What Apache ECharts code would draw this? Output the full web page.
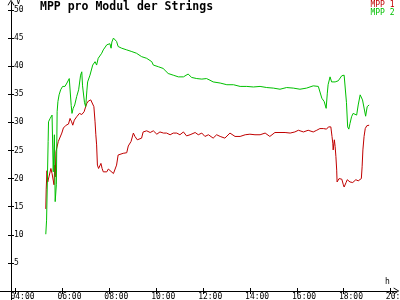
<!DOCTYPE html>
<html><head><meta charset="utf-8">
<script src="https://cdn.jsdelivr.net/npm/echarts@6/dist/echarts.min.js"></script>
<style>html,body{margin:0;padding:0;background:#fff}#c{width:400px;height:300px}</style>
</head><body><div id="c"></div>
<script>
const chartTitle = 'MPP pro Modul der Strings';
const seriesNames = ['MPP 1', 'MPP 2'];
const xTicks = [4, 6, 8, 10, 12, 14, 16, 18, 20];
const yTicks = [5, 10, 15, 20, 25, 30, 35, 40, 45, 50];

const times1 = ['05:18','05:19','05:21','05:23','05:26','05:31','05:34','05:39','05:41','05:42','05:44','05:47','05:50','05:54','05:59','06:03','06:10','06:16','06:20','06:24','06:27','06:31','06:37','06:44','06:50','06:56','07:00','07:03','07:07','07:13','07:17','07:21','07:24','07:26','07:28','07:30','07:33','07:37','07:39','07:42','07:45','07:49','07:54','07:58','08:02','08:11','08:15','08:19','08:23','08:28','08:36','08:45','08:49','08:56','09:02','09:06','09:12','09:17','09:23','09:27','09:36','09:45','09:53','10:02','10:10','10:19','10:27','10:36','10:44','10:53','11:01','11:10','11:18','11:27','11:40','11:48','11:57','12:05','12:14','12:26','12:35','12:44','12:56','13:09','13:22','13:35','13:48','14:00','14:13','14:26','14:39','14:51','15:04','15:17','15:30','15:43','15:55','16:04','16:17','16:29','16:42','16:51','16:59','17:08','17:16','17:21','17:27','17:30','17:32','17:33','17:36','17:38','17:40','17:42','17:43','17:46','17:48','17:52','17:55','17:59','18:01','18:06','18:09','18:16','18:23','18:27','18:31','18:37','18:42','18:45','18:47','18:49','18:52','18:55','18:59','19:05'];
const mpp1 = [14.6,18.0,21.4,19.4,20.3,21.8,20.9,18.9,22.4,20.3,24.8,25.1,26.6,26.9,28.1,29.0,29.5,29.7,30.7,30.1,29.5,30.4,31.0,31.6,31.4,31.9,32.8,33.4,33.8,34.0,33.8,32.8,30.1,27.8,26.0,22.4,21.8,22.1,22.7,21.8,21.2,21.5,21.2,21.7,21.5,20.9,20.8,22.4,24.2,24.5,24.5,24.6,25.8,26.6,28.1,27.5,26.9,26.9,27.2,28.3,28.5,28.2,28.5,27.9,28.3,28.1,28.1,27.8,28.1,28.1,27.8,28.3,27.6,27.8,28.2,27.8,28.1,27.5,27.8,27.2,27.8,27.5,27.2,28.1,27.5,27.5,27.8,27.9,27.8,27.8,28.1,27.5,28.2,28.2,28.2,28.1,28.3,28.6,28.3,28.6,28.3,28.6,28.9,28.9,28.8,29.2,29.2,27.5,26.3,25.1,26.9,25.7,23.9,21.5,19.4,19.2,20.0,20.0,19.9,18.9,18.5,19.3,19.8,19.4,19.3,19.2,19.8,19.6,19.8,20.0,22.1,25.1,27.5,28.9,29.4,29.5];

const times2 = ['05:18','05:20','05:22','05:24','05:25','05:29','05:34','05:35','05:37','05:40','05:42','05:45','05:47','05:49','05:52','05:56','06:01','06:07','06:12','06:18','06:21','06:23','06:25','06:28','06:32','06:37','06:42','06:47','06:50','06:52','06:57','07:00','07:03','07:05','07:11','07:18','07:24','07:28','07:32','07:37','07:41','07:45','07:49','07:54','07:58','08:02','08:05','08:07','08:11','08:13','08:16','08:19','08:23','08:32','08:45','08:58','09:10','09:23','09:36','09:49','09:53','10:06','10:18','10:31','10:44','10:57','11:10','11:22','11:31','11:44','11:57','12:09','12:18','12:26','12:44','13:01','13:18','13:35','13:52','14:09','14:26','14:43','15:00','15:17','15:34','15:51','16:08','16:25','16:42','16:55','16:59','17:04','17:10','17:15','17:18','17:20','17:25','17:29','17:38','17:46','17:55','18:01','18:04','18:07','18:10','18:13','18:16','18:20','18:24','18:29','18:33','18:37','18:42','18:45','18:48','18:53','18:56','19:00','19:05'];
const mpp2 = [10.1,12.6,19.4,26.6,30.1,30.7,31.3,31.3,21.2,27.8,15.9,18.9,31.9,33.7,34.9,35.8,36.4,36.4,37.0,37.8,38.0,33.0,31.6,32.5,33.1,34.6,35.8,38.4,39.0,36.5,33.5,32.8,35.6,37.2,38.4,40.2,40.8,40.2,41.4,41.7,42.3,42.9,43.2,43.8,44.1,44.0,43.2,44.3,45.0,45.3,45.0,44.4,43.5,43.2,42.9,42.6,42.3,41.7,41.4,40.8,40.2,39.9,39.6,38.7,38.4,38.1,38.1,38.6,38.0,37.8,37.7,37.8,37.5,37.2,37.0,36.7,36.7,36.4,36.4,36.3,36.4,36.2,36.1,35.9,36.2,36.1,35.9,36.1,36.5,36.4,36.1,34.3,33.7,32.5,35.2,36.7,38.1,37.2,37.2,37.4,38.3,38.4,38.1,33.5,29.2,28.8,29.8,31.0,31.6,31.9,31.3,33.1,34.9,35.0,34.0,32.2,31.1,32.8,33.1];

const colors = ['#c00000', '#00c000'];
const FONT = 'DejaVu Sans Mono';

function toHours(t) { const p = t.split(':'); return +p[0] + (+p[1]) / 60; }
function pairs(times, vals) { return times.map((t, i) => [toHours(t), vals[i]]); }
// leading spaces shift the centred label so its text starts just left of the tick
function hourLabel(v) { const h = Math.round(v); return '   ' + (h < 10 ? '0' : '') + h + ':00'; }

const arrow = 'path://M5,0 L10,8 L8.6,8 L5,2 L1.4,8 L0,8 Z';
const X_MIN = 3.348, X_MAX = 20.249, Y_MIN = -1.6, Y_MAX = 51.33;

const chart = echarts.init(document.getElementById('c'), null, { renderer: 'canvas' });
const xBase = {
  type: 'value', min: X_MIN, max: X_MAX, position: 'bottom',
  splitLine: { show: false }
};
const yBase = {
  type: 'value', min: Y_MIN, max: Y_MAX, position: 'left', offset: -11,
  splitLine: { show: false }
};
chart.setOption({
  animation: false,
  backgroundColor: '#fff',
  title: {
    text: chartTitle, left: 40, top: 1.5, padding: 0,
    textStyle: { fontFamily: FONT, fontWeight: 'bold', fontSize: 11.5, color: '#000' }
  },
  legend: {
    orient: 'vertical', right: 5.5, top: 0.6, padding: 0, itemGap: 0,
    itemWidth: 0, itemHeight: 7.7, icon: 'rect', selectedMode: false,
    textStyle: { fontFamily: FONT, fontSize: 8, lineHeight: 8, padding: 0 },
    data: seriesNames.map((n, i) => ({ name: n, textStyle: { color: colors[i] } }))
  },
  grid: { left: 0, right: 3.5, top: 2.5, bottom: 0, containLabel: false, outerBoundsMode: 'none' },
  xAxis: [
    Object.assign({}, xBase, {
      axisLine: { show: true, onZero: true, onZeroAxisIndex: 0, lineStyle: { color: '#000', width: 1 },
        symbol: ['none', arrow], symbolSize: [7, 6] },
      axisTick: { show: true, inside: true, length: 3, customValues: xTicks, lineStyle: { color: '#000' } },
      axisLabel: { show: true, customValues: xTicks, hideOverlap: false,
        formatter: hourLabel, align: 'center',
        fontFamily: FONT, fontSize: 8, color: '#000', margin: -7 },
      name: 'h', nameLocation: 'end', nameGap: -11.5,
      nameTextStyle: { fontFamily: FONT, fontSize: 8, color: '#000', align: 'left', verticalAlign: 'bottom', padding: [0, 0, 5, 0] }
    }),
    Object.assign({}, xBase, {
      axisLine: { show: false, onZero: true, onZeroAxisIndex: 1 },
      axisTick: { show: true, inside: false, length: 3, customValues: xTicks, lineStyle: { color: '#000' } },
      axisLabel: { show: false }
    })
  ],
  yAxis: [
    Object.assign({}, yBase, {
      axisLine: { show: true, onZero: false, lineStyle: { color: '#000', width: 1 },
        symbol: ['none', arrow], symbolSize: [7, 6] },
      axisTick: { show: true, inside: true, length: 3, customValues: yTicks, lineStyle: { color: '#000' } },
      axisLabel: { show: true, inside: true, customValues: yTicks, hideOverlap: false,
        fontFamily: FONT, fontSize: 8, color: '#000', margin: 3 },
      name: 'V', nameLocation: 'end', nameGap: -4,
      nameTextStyle: { fontFamily: FONT, fontSize: 8, color: '#000', align: 'left', verticalAlign: 'bottom', padding: [0, 0, 0, 5] }
    }),
    Object.assign({}, yBase, {
      axisLine: { show: false, onZero: false },
      axisTick: { show: true, inside: false, length: 3, customValues: yTicks, lineStyle: { color: '#000' } },
      axisLabel: { show: false }
    })
  ],
  series: [
    { name: seriesNames[0], type: 'line', xAxisIndex: 0, yAxisIndex: 0, showSymbol: false, symbol: 'none',
      data: pairs(times1, mpp1), lineStyle: { color: colors[0], width: 1 }, itemStyle: { color: colors[0] } },
    { name: seriesNames[1], type: 'line', xAxisIndex: 0, yAxisIndex: 0, showSymbol: false, symbol: 'none',
      data: pairs(times2, mpp2), lineStyle: { color: colors[1], width: 1 }, itemStyle: { color: colors[1] } }
  ]
});
</script>
</body></html>
